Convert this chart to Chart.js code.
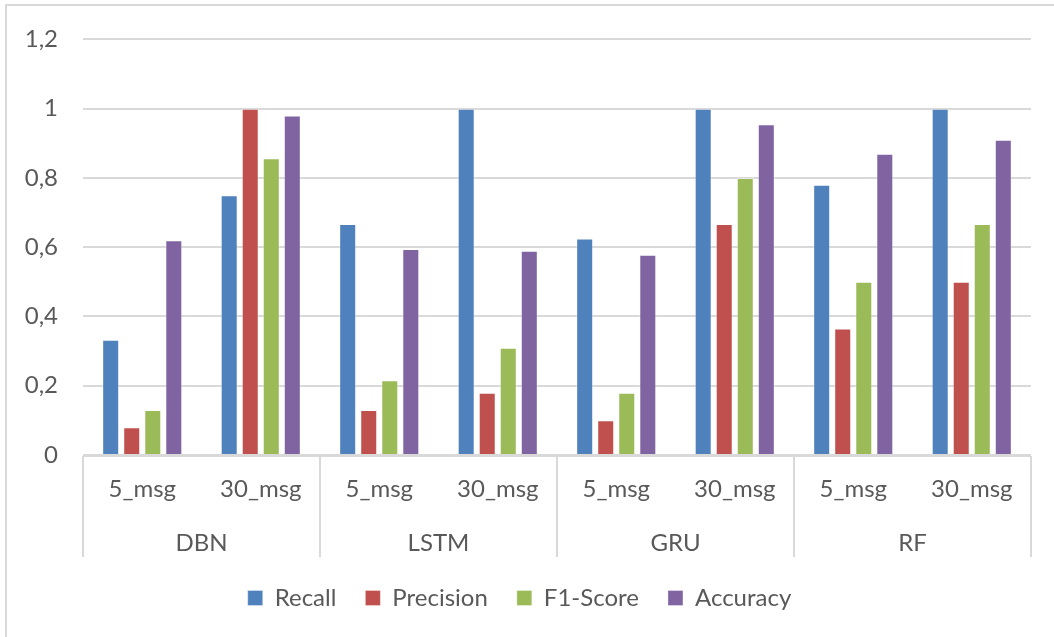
<!doctype html>
<html>
<head>
	<meta charset="utf-8">
	<title>Recall / Precision / F1 / Accuracy</title>
	<script src="https://cdn.jsdelivr.net/npm/chart.js@4/dist/chart.umd.min.js"></script>
	<style>
		html, body {margin:0; padding:0; background:#fff}
		#wrap {width:1054px; height:637px; position:relative}
	</style>
</head>
<body>
<div id="wrap"><canvas id="canvas"></canvas></div>
<script>
	// data
	var categories = ['5_msg', '30_msg', '5_msg', '30_msg', '5_msg', '30_msg', '5_msg', '30_msg'];
	var groups = ['DBN', 'LSTM', 'GRU', 'RF'];
	var recall    = [0.333, 0.75, 0.667, 1.0, 0.625, 1.0, 0.78, 1.0];
	var precision = [0.08, 1.0, 0.13, 0.18, 0.10, 0.667, 0.365, 0.5];
	var f1score   = [0.13, 0.857, 0.216, 0.31, 0.18, 0.8, 0.5, 0.667];
	var accuracy  = [0.62, 0.98, 0.595, 0.59, 0.578, 0.955, 0.87, 0.91];

	var gray = '#595959';
	var lineCol = '#d9d9d9';
	var fontFam = 'Lato, "Open Sans", sans-serif';

	// frame, axis line and the separators of the two-level category axis
	var frame = {
		id: 'frame',
		beforeDraw: function(chart) {
			var c = chart.ctx;
			c.save();
			c.fillStyle = '#fff';
			c.fillRect(0, 0, chart.width, chart.height);
			c.strokeStyle = lineCol;
			c.lineWidth = 2;
			c.strokeRect(6, 5, chart.width + 20, chart.height + 20);
			c.restore();
		},
		afterDraw: function(chart) {
			var c = chart.ctx, x = chart.scales.x, x2 = chart.scales.x2;
			var top = x.top + 1, bottom = x2.bottom;
			c.save();
			c.strokeStyle = lineCol;
			c.lineWidth = 2;
			c.beginPath();
			c.moveTo(x.left, top);
			c.lineTo(x.right, top);
			var n = categories.length, per = n / groups.length;
			for (var g = 0; g <= groups.length; g++) {
				var px;
				if (g === 0) px = x.left;
				else if (g === groups.length) px = x.right;
				else px = (x.getPixelForTick(g * per - 1) + x.getPixelForTick(g * per)) / 2;
				c.moveTo(px, top);
				c.lineTo(px, bottom);
			}
			c.stroke();
			c.restore();
		}
	};

	function ds(label, data, color) {
		return {
			label: label,
			data: data,
			backgroundColor: color,
			borderColor: 'rgba(255,255,255,0.35)',
			borderWidth: 1,
			categoryPercentage: 0.71,
			barPercentage: 0.81
		};
	}

	new Chart(document.getElementById('canvas'), {
		type: 'bar',
		data: {
			labels: categories,
			datasets: [
				ds('Recall', recall, '#4f81bd'),
				ds('Precision', precision, '#c0504d'),
				ds('F1-Score', f1score, '#9bbb59'),
				ds('Accuracy', accuracy, '#8064a2')
			]
		},
		options: {
			responsive: true,
			maintainAspectRatio: false,
			animation: false,
			layout: {padding: {left: 8, right: 23, top: 38, bottom: 17}},
			plugins: {
				legend: {
					position: 'bottom',
					labels: {
						boxWidth: 15, boxHeight: 15, padding: 29,
						color: gray,
						font: {family: fontFam, size: 24}
					}
				},
				tooltip: {enabled: false}
			},
			scales: {
				x: {
					grid: {display: false},
					border: {display: false},
					ticks: {
						color: gray, padding: 12,
						font: {family: fontFam, size: 24}
					},
					afterFit: function(s) { s.height = 60; }
				},
				x2: {
					type: 'category',
					labels: groups,
					position: 'bottom',
					offset: true,
					grid: {display: false},
					border: {display: false},
					ticks: {
						color: gray, padding: 6,
						font: {family: fontFam, size: 24}
					},
					afterFit: function(s) { s.height = 42; }
				},
				y: {
					min: 0, max: 1.2,
					border: {display: false},
					grid: {color: lineCol, lineWidth: 2, drawTicks: false},
					ticks: {
						stepSize: 0.2, padding: 25,
						color: gray,
						font: {family: fontFam, size: 24},
						callback: function(v) { return String(Number(v.toFixed(1))).replace('.', ','); }
					},
					afterFit: function(s) { s.width = 75; }
				}
			}
		},
		plugins: [frame]
	});
</script>
</body>
</html>
